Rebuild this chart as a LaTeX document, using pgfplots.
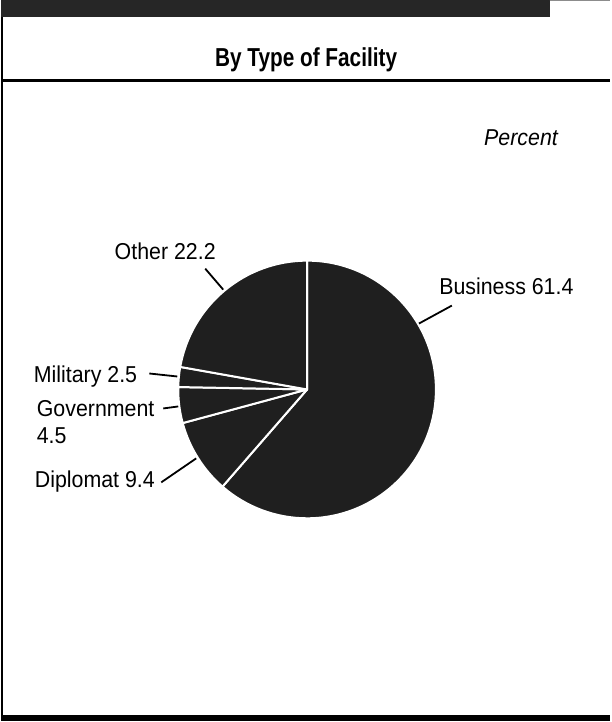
\documentclass[border=0pt]{standalone}
\usepackage{pgfplots}
\usepackage{pgfplotstable}
\pgfplotsset{compat=1.18}
\usepackage{fontspec}
\setmainfont{Liberation Sans}[FakeStretch=0.93]
\newfontfamily\titlefont{Liberation Sans}[FakeStretch=0.8]

% share of attacks by type of facility, percent
\pgfplotstableread{
label value
Business 61.4
Diplomat 9.4
Government 4.5
Military 2.5
Other 22.2
}\facility

% slice angles: clockwise from the top
\def\cum{0}
\pgfplotsforeachungrouped \i in {0,...,4}{%
  \pgfplotstablegetelem{\i}{value}\of\facility
  \pgfmathsetmacro\sa{90-3.6*\cum}%
  \pgfmathsetmacro\cum{\cum+\pgfplotsretval}%
  \pgfmathsetmacro\ea{90-3.6*\cum}%
  \expandafter\xdef\csname sliceS\i\endcsname{\sa}%
  \expandafter\xdef\csname sliceE\i\endcsname{\ea}%
}

\newcommand\slice[1]{%
  \edef\temp{\noexpand\fill[pie] (axis cs:306,390) -- ++(\csname sliceS#1\endcsname:64.5pt)
    arc[start angle=\csname sliceS#1\endcsname, end angle=\csname sliceE#1\endcsname, radius=64.5pt] -- cycle;}%
  \temp}

\tikzset{
  pie/.style={fill=black!88, draw=white, line width=1pt, line join=round},
  lbl/.style={anchor=base west, inner sep=0pt, font=\fontsize{11.5}{13}\selectfont},
  lead/.style={black, line width=0.9pt}
}

\begin{document}
\begin{tikzpicture}
  \begin{axis}[
      width=304.5pt, height=361pt, scale only axis,
      xmin=0, xmax=609, ymin=0, ymax=722,
      y dir=reverse, hide axis, clip=false
    ]
    \path[fill=white] (axis cs:0,0) rectangle (axis cs:609,722);
    % frame
    \fill[black!85] (axis cs:0,0) rectangle (axis cs:549,17);
    \draw[black!45, line width=0.6pt] (axis cs:549,0.6) -- (axis cs:609,0.6);
    \draw[black, line width=1pt] (axis cs:1,17) -- (axis cs:1,722);
    \draw[black, line width=1.5pt] (axis cs:0,80.5) -- (axis cs:609,80.5);
    \fill[black] (axis cs:0,716) rectangle (axis cs:609,722);
    \node[anchor=base, inner sep=0pt, font=\titlefont\bfseries\fontsize{13}{15}\selectfont]
      at (axis cs:305,67) {By Type of Facility};
    \node[lbl] at (axis cs:483,146) {\itshape Percent};

    \slice{0}
    \slice{1}
    \slice{2}
    \slice{3}
    \slice{4}

    \node[lbl] at (axis cs:113,260) {Other 22.2};
    \draw[lead] (axis cs:204,269) -- (axis cs:222,290);
    \node[lbl] at (axis cs:438,295) {Business 61.4};
    \draw[lead] (axis cs:451,306) -- (axis cs:418,324);
    \node[lbl] at (axis cs:32,383) {Military 2.5};
    \draw[lead] (axis cs:148,374) -- (axis cs:176,377);
    \node[lbl] at (axis cs:35,417) {Government};
    \node[lbl] at (axis cs:35,444) {4.5};
    \draw[lead] (axis cs:162,409) -- (axis cs:177,407);
    \node[lbl] at (axis cs:33,488) {Diplomat 9.4};
    \draw[lead] (axis cs:160,483) -- (axis cs:195,459);
  \end{axis}
\end{tikzpicture}
\end{document}
